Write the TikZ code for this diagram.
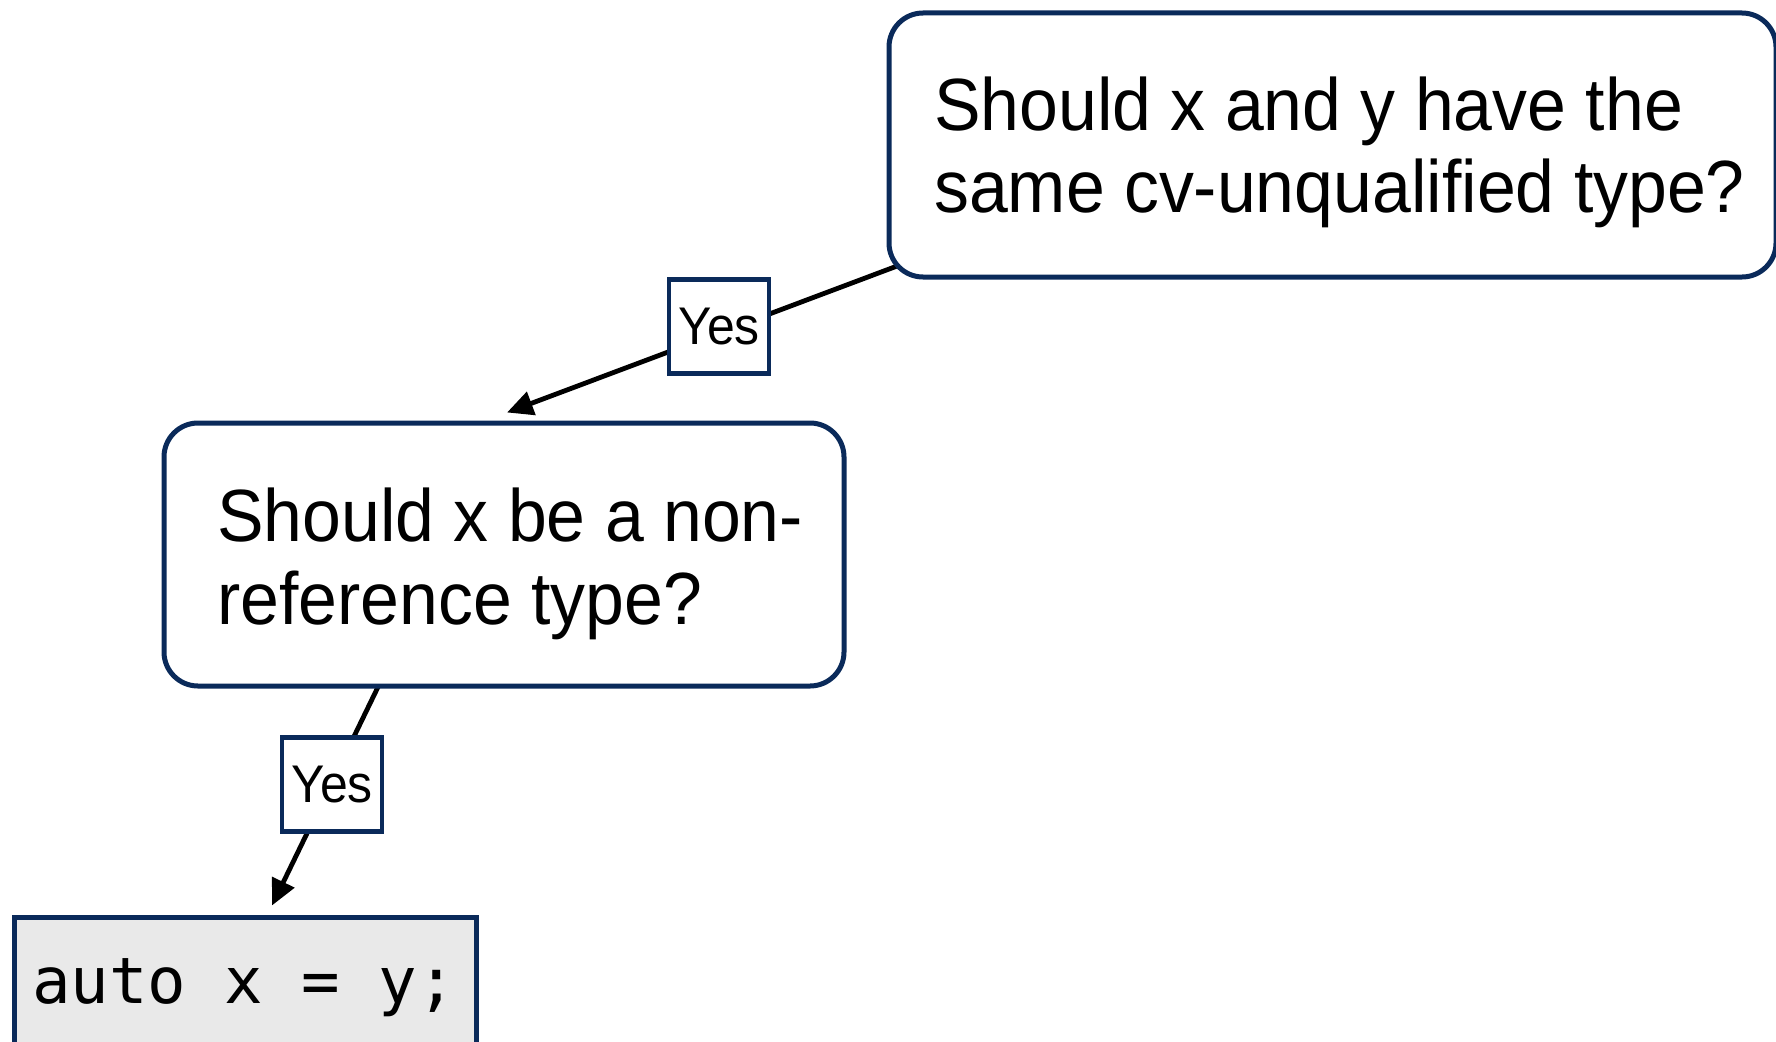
\documentclass[tikz,border=0pt]{standalone}
\usepackage{fontspec}
\setmainfont{Liberation Sans}[FakeStretch=0.943]
\newfontfamily\codefont{DejaVu Sans Mono}
\usetikzlibrary{arrows.meta,backgrounds,calc}
\definecolor{navy}{HTML}{0A2A5A}
\definecolor{codebg}{HTML}{E9E9E9}
\begin{document}
\begin{tikzpicture}[x=1pt,y=-1pt,
  qbox/.style={draw=navy, line width=5pt, rounded corners=34pt, fill=white, inner sep=0pt},
  lbl/.style={draw=navy, line width=4.5pt, fill=white, minimum width=100pt, minimum height=94pt, inner sep=0pt, font=\fontsize{53}{60}\selectfont},
  qtext/.style={anchor=base west, inner sep=0pt, font=\fontsize{74}{82}\selectfont},
  codebox/.style={draw=navy, fill=codebg, line width=5pt, inner sep=0pt},
  conn/.style={line width=4.8pt, -{Triangle[length=26pt,width=24pt]}}]
\path[use as bounding box] (0,0) rectangle (1776,1041);
\clip (0,0) rectangle (1776,1041);

% top question
\node[qbox, minimum width=887pt, minimum height=264pt] (top) at (1332.5,145) {};
\node[qtext] (t1) at (934,130) {Should x and y have the};
\node[qtext] (t2) at (934,212) {same cv-unqualified type?};

% middle question
\node[qbox, minimum width=680pt, minimum height=263pt] (mid) at (504,554.5) {};
\node[qtext] (m1) at (217,541) {Should x be a non-};
\node[qtext] (m2) at (217,624) {reference type?};

% code box
\node[codebox, minimum width=462pt, minimum height=200pt] (code) at (245,1017) {};
\node[anchor=base west, inner sep=0pt, font=\codefont\fontsize{64}{70}\selectfont] (ct) at (32,1003) {auto x = y;};

% labels
\node[lbl] (y1) at (719,326.5) {Yes};
\node[lbl] (y2) at (332,784.5) {Yes};

% connectors
\begin{scope}[on background layer]
\draw[conn] ($(top.south west)+(36,-23)$) -- ($(mid.north)+(3,-8)$);
\draw[conn] ($(mid.south)+(-118,-18)$) -- ($(code.north)+(27,-9)$);
\end{scope}
\end{tikzpicture}
\end{document}
